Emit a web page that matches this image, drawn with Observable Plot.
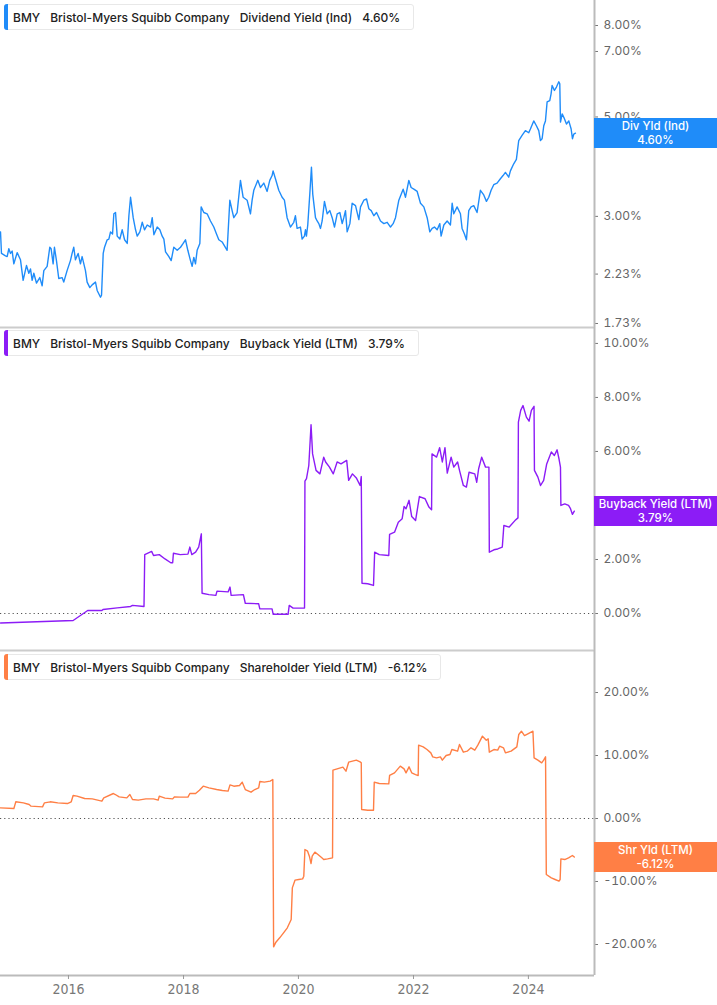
<!DOCTYPE html>
<html>
<head>
<meta charset="utf-8">
<script src="https://cdn.jsdelivr.net/npm/d3@7"></script>
<script src="https://cdn.jsdelivr.net/npm/@observablehq/plot@0.6"></script>
<style>
  html, body { margin: 0; padding: 0; background: #fff; }
  #chart { position: relative; width: 717px; height: 1005px; overflow: hidden; font-family: Inter, "Noto Sans", sans-serif; }
  .panel { position: absolute; left: 0; }
  .title { position: absolute; left: 4px; height: 24px; background: #fff; border: 1px solid #e8e8e8; border-radius: 3px;
           display: flex; align-items: center; gap: 10px; padding: 0 13px 0 8px; font-size: 12px; font-weight: 500; color: #222; box-sizing: content-box; white-space: nowrap; }
  .title .bar { position: absolute; left: -1px; top: -1px; bottom: -1px; width: 4px; border-radius: 3px 0 0 3px; }
  .tag { position: absolute; left: 594px; width: 123px; height: 30px; color: #fff; font-size: 11.5px; font-weight: 500;
         display: flex; flex-direction: column; align-items: center; justify-content: center; text-align: center; line-height: 14px; }
</style>
</head>
<body>
<div id="chart"></div>
<script>
// ---------- data (decimal years, percent values) ----------
const xTickLabels = ["2016", "2018", "2020", "2022", "2024"];
const xDomainYears = [2014.817, 2025.148];

const divTitle = ["BMY", "Bristol-Myers Squibb Company", "Dividend Yield (Ind)", "4.60%"];
const divTag = ["Div Yld (Ind)", "4.60%"];
const divTicks = [8, 7, 5, 3, 2.23, 1.73];
const divYears = [2014.817,2014.834,2014.904,2014.933,2014.962,2014.991,2015.020,2015.049,2015.107,2015.165,2015.211,2015.269,2015.310,2015.339,2015.368,2015.397,2015.443,2015.501,2015.542,2015.571,2015.629,2015.675,2015.698,2015.733,2015.756,2015.791,2015.831,2015.889,2015.918,2015.976,2016.034,2016.063,2016.092,2016.121,2016.168,2016.208,2016.237,2016.295,2016.324,2016.371,2016.411,2016.469,2016.498,2016.556,2016.574,2016.603,2016.626,2016.672,2016.701,2016.730,2016.765,2016.788,2016.817,2016.846,2016.892,2016.933,2016.974,2017.020,2017.049,2017.078,2017.124,2017.165,2017.194,2017.240,2017.281,2017.321,2017.368,2017.426,2017.455,2017.484,2017.542,2017.588,2017.629,2017.658,2017.687,2017.745,2017.785,2017.831,2017.890,2017.948,2017.994,2018.034,2018.075,2018.121,2018.150,2018.179,2018.208,2018.237,2018.284,2018.307,2018.353,2018.411,2018.469,2018.527,2018.574,2018.614,2018.672,2018.759,2018.806,2018.846,2018.875,2018.933,2018.991,2019.037,2019.107,2019.165,2019.194,2019.223,2019.293,2019.339,2019.397,2019.455,2019.501,2019.542,2019.559,2019.600,2019.658,2019.716,2019.756,2019.803,2019.861,2019.919,2019.948,2019.977,2020.035,2020.064,2020.104,2020.122,2020.139,2020.162,2020.197,2020.226,2020.249,2020.296,2020.325,2020.354,2020.383,2020.412,2020.452,2020.499,2020.545,2020.586,2020.626,2020.673,2020.719,2020.760,2020.788,2020.817,2020.846,2020.893,2020.933,2020.991,2021.049,2021.078,2021.136,2021.183,2021.223,2021.264,2021.310,2021.357,2021.426,2021.484,2021.542,2021.600,2021.646,2021.687,2021.745,2021.786,2021.820,2021.861,2021.919,2021.959,2022.006,2022.064,2022.122,2022.180,2022.238,2022.284,2022.325,2022.365,2022.412,2022.458,2022.481,2022.528,2022.586,2022.643,2022.673,2022.701,2022.759,2022.817,2022.846,2022.887,2022.922,2022.962,2023.003,2023.049,2023.107,2023.165,2023.223,2023.270,2023.310,2023.351,2023.397,2023.455,2023.513,2023.559,2023.600,2023.658,2023.687,2023.745,2023.791,2023.832,2023.890,2023.948,2024.006,2024.035,2024.093,2024.139,2024.180,2024.209,2024.238,2024.267,2024.296,2024.325,2024.371,2024.394,2024.412,2024.452,2024.487,2024.528,2024.545,2024.557,2024.586,2024.615,2024.661,2024.701,2024.742,2024.765,2024.788,2024.817];
const divValues = [2.77,2.48,2.45,2.44,2.54,2.48,2.51,2.35,2.49,2.40,2.16,2.33,2.24,2.29,2.16,2.24,2.13,2.19,2.10,2.27,2.32,2.56,2.54,2.35,2.56,2.39,2.18,2.19,2.14,2.27,2.39,2.48,2.56,2.40,2.48,2.35,2.44,2.27,2.14,2.08,2.11,2.14,2.05,1.98,2.00,2.48,2.56,2.66,2.67,2.77,2.74,3.04,3.06,2.71,2.67,2.80,2.66,2.61,3.01,3.31,2.98,2.80,2.71,2.77,2.91,2.80,2.87,2.84,2.98,2.73,2.84,2.80,2.71,2.67,2.50,2.44,2.39,2.56,2.52,2.56,2.61,2.66,2.52,2.39,2.32,2.43,2.35,2.52,2.61,3.15,3.06,3.04,2.93,2.84,2.74,2.66,2.63,2.52,3.26,3.09,2.98,3.06,3.61,3.31,3.26,3.04,3.26,3.43,3.61,3.48,3.56,3.41,3.61,3.70,3.79,3.64,3.43,3.31,3.26,2.98,2.84,2.91,3.01,2.82,2.84,2.67,2.71,2.80,2.71,2.87,3.36,3.86,3.36,2.98,2.93,2.89,2.82,2.93,3.24,3.04,3.09,2.98,2.84,3.04,3.06,2.89,2.98,3.09,2.77,2.89,3.21,3.17,2.95,3.15,3.26,3.28,3.12,3.09,3.01,3.06,2.93,2.89,2.91,2.84,2.89,2.98,3.26,3.36,3.45,3.31,3.61,3.48,3.45,3.41,3.21,3.15,2.98,2.77,2.82,2.84,2.80,2.89,2.71,2.87,2.93,2.87,3.21,3.04,3.15,3.04,2.82,2.74,2.66,3.09,3.15,3.17,3.06,3.43,3.35,3.24,3.31,3.43,3.53,3.56,3.64,3.70,3.76,3.67,3.79,3.93,4.02,4.43,4.55,4.66,4.61,4.70,4.90,4.78,4.66,4.43,4.47,4.78,4.90,5.40,5.44,5.63,5.88,5.73,5.83,5.99,5.93,4.87,5.08,4.99,4.82,4.90,4.70,4.47,4.58,4.60];

const buyTitle = ["BMY", "Bristol-Myers Squibb Company", "Buyback Yield (LTM)", "3.79%"];
const buyTag = ["Buyback Yield (LTM)", "3.79%"];
const buyTicks = [10, 8, 6, 2, 0];
const buyYears = [2014.817,2016.081,2016.334,2016.580,2016.600,2016.846,2017.079,2017.112,2017.312,2017.325,2017.445,2017.478,2017.578,2017.678,2017.778,2017.811,2017.824,2017.944,2018.077,2018.110,2018.144,2018.210,2018.264,2018.310,2018.323,2018.443,2018.563,2018.583,2018.776,2018.809,2018.829,2019.042,2019.075,2019.308,2019.328,2019.541,2019.561,2019.820,2019.840,2019.907,2020.106,2020.113,2020.140,2020.180,2020.219,2020.246,2020.306,2020.373,2020.439,2020.472,2020.539,2020.605,2020.672,2020.739,2020.838,2020.872,2020.938,2021.005,2021.071,2021.091,2021.104,2021.204,2021.304,2021.324,2021.404,2021.570,2021.584,2021.670,2021.736,2021.803,2021.836,2021.870,2021.923,2021.969,2022.036,2022.103,2022.202,2022.269,2022.315,2022.322,2022.402,2022.455,2022.502,2022.548,2022.588,2022.655,2022.701,2022.768,2022.801,2022.868,2022.921,2022.967,2023.067,2023.101,2023.134,2023.187,2023.254,2023.313,2023.320,2023.400,2023.466,2023.546,2023.573,2023.666,2023.766,2023.819,2023.826,2023.866,2023.906,2023.965,2024.012,2024.052,2024.098,2024.105,2024.165,2024.211,2024.265,2024.318,2024.398,2024.451,2024.498,2024.531,2024.557,2024.564,2024.631,2024.697,2024.731,2024.764,2024.797];
const buyValues = [-0.35,-0.26,0.11,0.11,0.15,0.21,0.26,0.30,0.26,2.18,2.30,2.15,2.18,2.02,1.88,1.88,2.23,2.18,2.20,2.46,2.18,2.27,2.46,2.95,0.75,0.70,0.67,0.83,0.80,0.98,0.67,0.70,0.38,0.36,0.17,0.17,-0.03,-0.03,0.30,0.20,0.20,4.90,4.99,5.48,6.99,5.91,5.30,5.17,5.79,5.61,5.42,5.17,5.61,5.54,5.67,4.93,5.17,5.02,4.74,5.07,1.12,1.10,1.04,2.27,2.18,2.15,2.93,3.01,3.38,3.51,3.96,3.88,4.19,3.59,3.44,4.33,4.25,3.94,3.84,5.91,5.79,6.14,5.61,6.14,5.20,5.79,5.42,5.61,5.30,4.74,4.68,5.23,5.17,4.86,5.36,5.79,5.42,5.42,2.27,2.36,2.39,2.46,3.26,3.20,3.44,3.54,7.09,7.52,7.70,7.27,7.12,7.52,7.67,5.30,5.05,4.74,4.93,5.54,5.98,5.85,6.06,5.73,5.42,4.00,4.06,4.00,3.88,3.67,3.79];

const shrTitle = ["BMY", "Bristol-Myers Squibb Company", "Shareholder Yield (LTM)", "-6.12%"];
const shrTag = ["Shr Yld (LTM)", "-6.12%"];
const shrTicks = [20, 10, 0, -10, -20];
const shrYears = [2014.817,2015.050,2015.083,2015.216,2015.316,2015.349,2015.549,2015.582,2015.682,2015.815,2015.981,2016.048,2016.081,2016.148,2016.281,2016.414,2016.580,2016.613,2016.780,2016.813,2016.880,2017.013,2017.066,2017.112,2017.212,2017.345,2017.478,2017.558,2017.578,2017.678,2017.811,2017.844,2017.944,2018.077,2018.110,2018.210,2018.277,2018.343,2018.443,2018.576,2018.676,2018.776,2018.809,2018.876,2018.975,2019.022,2019.075,2019.175,2019.241,2019.308,2019.328,2019.408,2019.508,2019.554,2019.568,2019.608,2019.674,2019.741,2019.807,2019.874,2019.894,2019.940,2020.006,2020.073,2020.093,2020.113,2020.159,2020.193,2020.219,2020.239,2020.286,2020.339,2020.406,2020.439,2020.506,2020.592,2020.599,2020.672,2020.772,2020.825,2020.872,2020.938,2021.005,2021.071,2021.091,2021.098,2021.204,2021.304,2021.317,2021.404,2021.570,2021.584,2021.670,2021.770,2021.836,2021.870,2021.923,2021.969,2022.036,2022.082,2022.089,2022.169,2022.235,2022.302,2022.335,2022.402,2022.468,2022.502,2022.568,2022.635,2022.668,2022.768,2022.801,2022.868,2022.934,2023.001,2023.067,2023.120,2023.200,2023.267,2023.300,2023.320,2023.400,2023.466,2023.499,2023.566,2023.600,2023.699,2023.799,2023.832,2023.879,2023.932,2023.999,2024.079,2024.099,2024.165,2024.231,2024.265,2024.298,2024.311,2024.398,2024.464,2024.531,2024.551,2024.564,2024.631,2024.697,2024.764,2024.797];
const shrValues = [1.69,1.59,2.65,2.49,2.22,1.96,1.85,2.49,2.65,2.49,2.38,2.65,3.65,3.55,3.17,3.12,2.75,3.28,3.97,3.81,3.44,3.28,3.81,3.02,2.91,3.12,3.12,2.91,3.54,3.23,3.12,3.44,3.39,3.39,3.97,3.97,4.50,5.13,4.87,4.60,4.44,4.34,5.34,5.13,5.24,5.77,4.60,4.18,4.60,4.87,5.87,5.77,5.93,6.19,-20.37,-19.63,-18.94,-18.15,-17.35,-16.03,-11.01,-9.79,-9.68,-9.58,-9.15,-4.92,-5.19,-6.08,-7.14,-5.98,-5.34,-5.71,-6.24,-6.51,-6.40,-6.24,7.67,7.88,8.15,7.51,8.94,9.10,9.26,8.99,8.84,1.43,1.32,1.32,5.77,5.56,5.50,6.83,7.25,8.31,7.88,7.25,8.20,7.25,6.98,6.83,11.64,11.38,10.95,10.42,9.79,9.63,9.79,9.26,10.00,10.16,10.95,10.69,11.75,10.53,10.69,11.22,10.85,11.64,13.07,12.43,12.65,10.53,10.95,10.85,11.48,11.22,10.42,10.69,11.38,13.33,13.86,13.17,13.49,13.86,9.63,9.26,8.84,9.26,9.79,-8.89,-9.42,-9.68,-9.95,-9.68,-6.40,-6.51,-6.24,-5.87,-6.12];

// ---------- helpers ----------
function toDate(y) {
  const yr = Math.floor(y);
  const a = Date.UTC(yr, 0, 1), b = Date.UTC(yr + 1, 0, 1);
  return new Date(a + (y - yr) * (b - a));
}
const rows = (years, values) => years.map((y, i) => ({date: toDate(y), value: values[i]}));
const xDomain = xDomainYears.map(toDate);
const xTicks = xTickLabels.map(s => toDate(+s));

const W = 717, PLOT_RIGHT = 594;
const pct = d => d.toFixed(2) + "%";
const font = "Inter, 'Noto Sans', sans-serif";
const chart = document.getElementById("chart");

const panels = [
  {top: 0, h: 327, mb: 0, color: "#1f8cf9", data: rows(divYears, divValues), yType: "log", yDomain: [1.6947, 9.097],
   ticks: divTicks, zero: false, title: divTitle, titleTop: 4, tag: divTag, sep: true},
  {top: 327, h: 323, mb: 0, color: "#8c1cf6", data: rows(buyYears, buyValues), yType: "linear", yDomain: [-1.37, 10.59],
   ticks: buyTicks, zero: true, title: buyTitle, titleTop: 330, tag: buyTag, sep: true},
  {top: 650, h: 355, mb: 30, color: "#ff7f45", data: rows(shrYears, shrValues), yType: "linear", yDomain: [-24.92, 26.67],
   ticks: shrTicks, zero: true, title: shrTitle, titleTop: 654, tag: shrTag, sep: false, xAxis: true}
];

for (const p of panels) {
  const marks = [];
  if (p.zero) marks.push(Plot.ruleY([0], {stroke: "#555", strokeWidth: 1, strokeDasharray: "1.2,3"}));
  marks.push(Plot.lineY(p.data, {x: "date", y: "value", stroke: p.color, strokeWidth: 1.4, strokeLinejoin: "round"}));
  marks.push(Plot.axisY({anchor: "right", ticks: p.ticks, tickFormat: pct, tickSize: 3, tickPadding: 6,
    fontSize: 12, fill: "#666", stroke: "#777", label: null, fontFamily: font}));
  marks.push(Plot.ruleX([xDomain[1]], {stroke: "#bbb", strokeWidth: 2}));
  if (p.sep) marks.push(Plot.ruleY([p.yDomain[0]], {stroke: "#ccc", strokeWidth: 2}));
  if (p.xAxis) {
    marks.push(Plot.ruleY([p.yDomain[0]], {stroke: "#bbb", strokeWidth: 2}));
    marks.push(Plot.axisX({anchor: "bottom", ticks: xTicks, tickFormat: d3.utcFormat("%Y"), tickSize: 4, tickPadding: 5,
      fontSize: 14, fill: "#777", stroke: "#999", label: null,
      fontFamily: "'Liberation Sans Narrow', 'Arial Narrow', 'DejaVu Sans Condensed', sans-serif"}));
  }
  const svg = Plot.plot({
    width: W, height: p.h,
    marginLeft: 0, marginRight: W - PLOT_RIGHT, marginTop: 0, marginBottom: p.mb,
    style: {fontFamily: font, fontSize: "12px", background: "transparent", overflow: "visible"},
    x: {type: "utc", domain: xDomain, axis: null},
    y: {type: p.yType, domain: p.yDomain, axis: null},
    marks
  });
  const wrap = document.createElement("div");
  wrap.className = "panel";
  wrap.style.top = p.top + "px";
  wrap.appendChild(svg);
  chart.appendChild(wrap);

  // title box
  const t = document.createElement("div");
  t.className = "title";
  t.style.top = p.titleTop + "px";
  const bar = document.createElement("div");
  bar.className = "bar";
  bar.style.background = p.color;
  t.appendChild(bar);
  for (const s of p.title) { const sp = document.createElement("span"); sp.textContent = s; t.appendChild(sp); }
  chart.appendChild(t);

  // last-value tag positioned with the panel's y scale
  const last = p.data[p.data.length - 1].value;
  const yPix = svg.scale("y").apply(last);
  const tag = document.createElement("div");
  tag.className = "tag";
  tag.style.background = p.color;
  tag.style.top = (p.top + yPix - 15) + "px";
  for (const s of p.tag) { const d = document.createElement("div"); d.textContent = s; tag.appendChild(d); }
  chart.appendChild(tag);
}
</script>
</body>
</html>
